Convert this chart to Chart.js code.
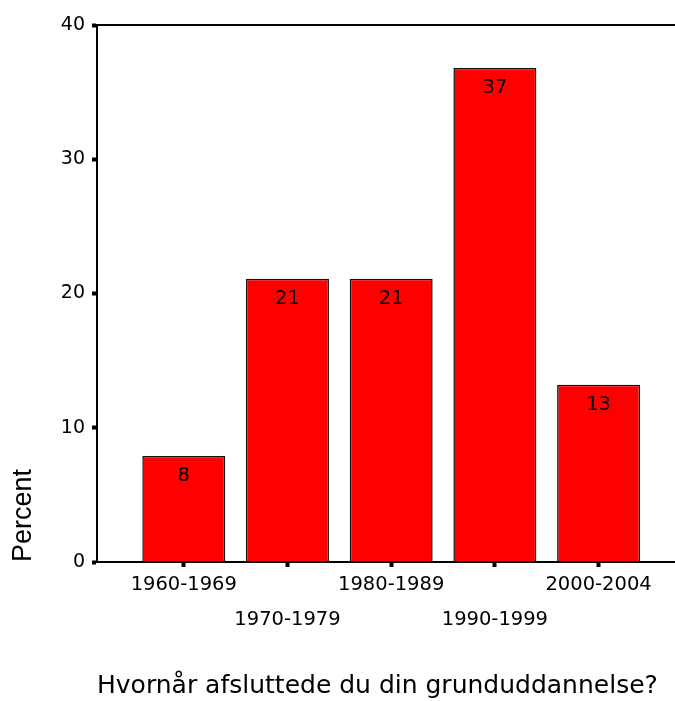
<!DOCTYPE html>
<html>
<head>
<meta charset="utf-8">
<script src="https://cdn.jsdelivr.net/npm/chart.js@4/dist/chart.umd.min.js"></script>
<style>
	html, body { margin: 0; padding: 0; background: #fff; }
	canvas { display: block; }
</style>
</head>
<body>
<canvas id="percentChart" width="675" height="701"></canvas>
<script>
const categories = ["1960-1969", "1970-1979", "1980-1989", "1990-1999", "2000-2004"];
const percents = [7.9, 21.1, 21.1, 36.8, 13.2];
const yTicks = [0, 10, 20, 30, 40];
const xTitle = "Hvornår afsluttede du din grunduddannelse?";
const yTitle = "Percent";

const FONT = "'DejaVu Sans', sans-serif";
const X_MIN = -0.837;
const X_MAX = 4.737;

// value labels drawn near the top of each bar
const barValueLabels = {
	id: "barValueLabels",
	afterDatasetsDraw(chart) {
		const ctx = chart.ctx;
		const meta = chart.getDatasetMeta(0);
		ctx.save();
		ctx.font = `19.5px ${FONT}`;
		ctx.fillStyle = "#000";
		ctx.textAlign = "center";
		ctx.textBaseline = "middle";
		meta.data.forEach(function (bar, i) {
			ctx.fillText(String(Math.round(percents[i])), bar.x, bar.y + 20);
		});
		ctx.restore();
	},
};

function initializePercentChart() {
	const ctx = document.getElementById("percentChart").getContext("2d");
	if (!ctx) return;

	Chart.defaults.color = "#000";

	new Chart(ctx, {
		type: "bar",
		data: {
			datasets: [
				{
					data: percents.map((v, i) => ({ x: i, y: v })),
					backgroundColor: "#ff0000",
					borderColor: "#111",
					borderWidth: 1.5,
					barPercentage: 0.8,
					categoryPercentage: 1.0,
					xAxisID: "x",
					yAxisID: "y",
				},
			],
		},
		options: {
			responsive: false,
			animation: false,
			layout: { padding: 0 },
			plugins: {
				legend: { display: false },
				tooltip: { enabled: false },
			},
			scales: {
				x: {
					type: "linear",
					position: "bottom",
					offset: false,
					min: X_MIN,
					max: X_MAX,
					afterBuildTicks: function (scale) {
						scale.ticks = categories.map((c, i) => ({ value: i }));
					},
					afterFit: function (scale) {
						scale.height = 139;
					},
					grid: {
						offset: false,
						drawOnChartArea: false,
						tickLength: 5,
						tickWidth: 4,
						tickColor: "#000",
					},
					border: { display: true, color: "#000", width: 2 },
					ticks: {
						autoSkip: false,
						maxRotation: 0,
						minRotation: 0,
						padding: 1,
						color: "#000",
						font: { family: FONT, size: 19.5, lineHeight: 1.76 },
						callback: function (value) {
							const label = categories[value];
							return value % 2 ? ["", label] : label;
						},
					},
					title: {
						display: true,
						text: xTitle,
						align: "start",
						color: "#000",
						padding: 0,
						font: { family: FONT, size: 25, lineHeight: 1.2 },
					},
				},
				x2: {
					type: "linear",
					position: "top",
					offset: false,
					min: X_MIN,
					max: X_MAX,
					afterFit: function (scale) {
						scale.height = 25;
					},
					grid: { display: false },
					ticks: { display: false },
					border: { display: true, color: "#000", width: 2 },
				},
				y: {
					position: "left",
					min: 0,
					max: 40,
					afterBuildTicks: function (scale) {
						scale.ticks = yTicks.map((v) => ({ value: v }));
					},
					afterFit: function (scale) {
						scale.width = 97;
					},
					grid: {
						drawOnChartArea: false,
						tickLength: 5,
						tickWidth: 4,
						tickColor: "#000",
					},
					border: { display: true, color: "#000", width: 2 },
					ticks: {
						padding: 7,
						color: "#000",
						font: { family: FONT, size: 19 },
					},
					title: {
						display: true,
						text: yTitle,
						align: "start",
						color: "#000",
						padding: { top: 7.7, bottom: 0 },
						font: { family: "'Liberation Sans', Arial, sans-serif", size: 27, lineHeight: 1.2 },
					},
				},
			},
		},
		plugins: [barValueLabels],
	});
}

document.addEventListener("DOMContentLoaded", initializePercentChart);
</script>
</body>
</html>
